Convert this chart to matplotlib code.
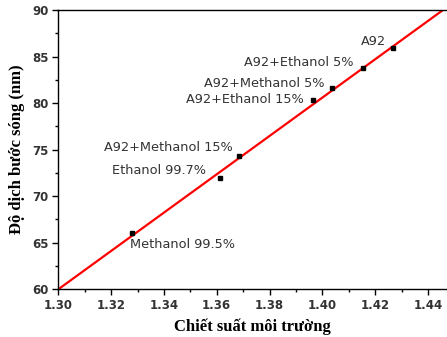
import matplotlib
matplotlib.use("Agg")
import matplotlib.pyplot as plt
import numpy as np
from matplotlib.ticker import MultipleLocator

# Data
labels = ["A92", "A92+Ethanol 5%", "A92+Methanol 5%", "A92+Ethanol 15%",
          "A92+Methanol 15%", "Ethanol 99.7%", "Methanol 99.5%"]
ri = [1.4267, 1.4155, 1.4038, 1.3966, 1.3686, 1.3612, 1.3280]
shift = [85.9, 83.75, 81.6, 80.35, 74.3, 72.0, 66.0]
fit_slope = 205.9
fit_intercept = -207.67
x_ticks = [1.30, 1.32, 1.34, 1.36, 1.38, 1.40, 1.42, 1.44]
y_ticks = [60, 65, 70, 75, 80, 85, 90]

# label offsets in pixels (dx, dy), alignment
offsets = [(-7, 6.5, "right"), (-10, 5.6, "right"), (-8, 5, "right"),
           (-10, 0.5, "right"), (-7, 9, "right"), (-14, 7, "right"),
           (-2, -11.5, "left")]

fig = plt.figure(figsize=(4.47, 3.37), dpi=100)
ax = fig.add_axes([58.3/447, 1-289.3/337, 1-58.3/447, (289.3-10)/337])

xlim = (1.30, 1.4472)
ax.set_xlim(*xlim)
ax.set_ylim(60, 90)

xf = np.linspace(xlim[0], xlim[1], 200)
ax.plot(xf, fit_slope*xf + fit_intercept, color="#ff0000", lw=1.6, zorder=2)
ax.plot(ri, shift, linestyle="none", marker="s", ms=3.5, color="black", zorder=3)

px2pt = 72/100
for lab, x, y, (dx, dy, ha) in zip(labels, ri, shift, offsets):
    ax.annotate(lab, (x, y), xytext=(dx*px2pt, dy*px2pt), textcoords="offset points",
                ha=ha, va="center", fontsize=9.3, color="#333333",
                family="DejaVu Sans")

ax.spines["right"].set_visible(False)
for s in ["left", "bottom", "top"]:
    ax.spines[s].set_linewidth(1.0)

ax.set_xticks(x_ticks)
ax.set_xticklabels([f"{v:.2f}" for v in x_ticks])
ax.set_yticks(y_ticks)
ax.set_yticklabels([str(v) for v in y_ticks])
ax.xaxis.set_minor_locator(MultipleLocator(0.01))
ax.yaxis.set_minor_locator(MultipleLocator(2.5))
ax.tick_params(which="major", direction="out", length=4, width=1, top=False, right=False,
               labelsize=8.5, labelcolor="#333333", pad=3)
ax.tick_params(which="minor", direction="out", length=2.5, width=1, top=False, right=False)
for t in ax.get_xticklabels() + ax.get_yticklabels():
    t.set_fontweight("bold")
    t.set_family("DejaVu Sans")

ax.set_xlabel("Chiết suất môi trường", fontsize=12, fontweight="bold",
              family="Liberation Serif", labelpad=5)
ax.set_ylabel("Độ dịch bước sóng (nm)", fontsize=12, fontweight="bold",
              family="Liberation Serif", labelpad=5)

fig.savefig("out.png", dpi=100)
